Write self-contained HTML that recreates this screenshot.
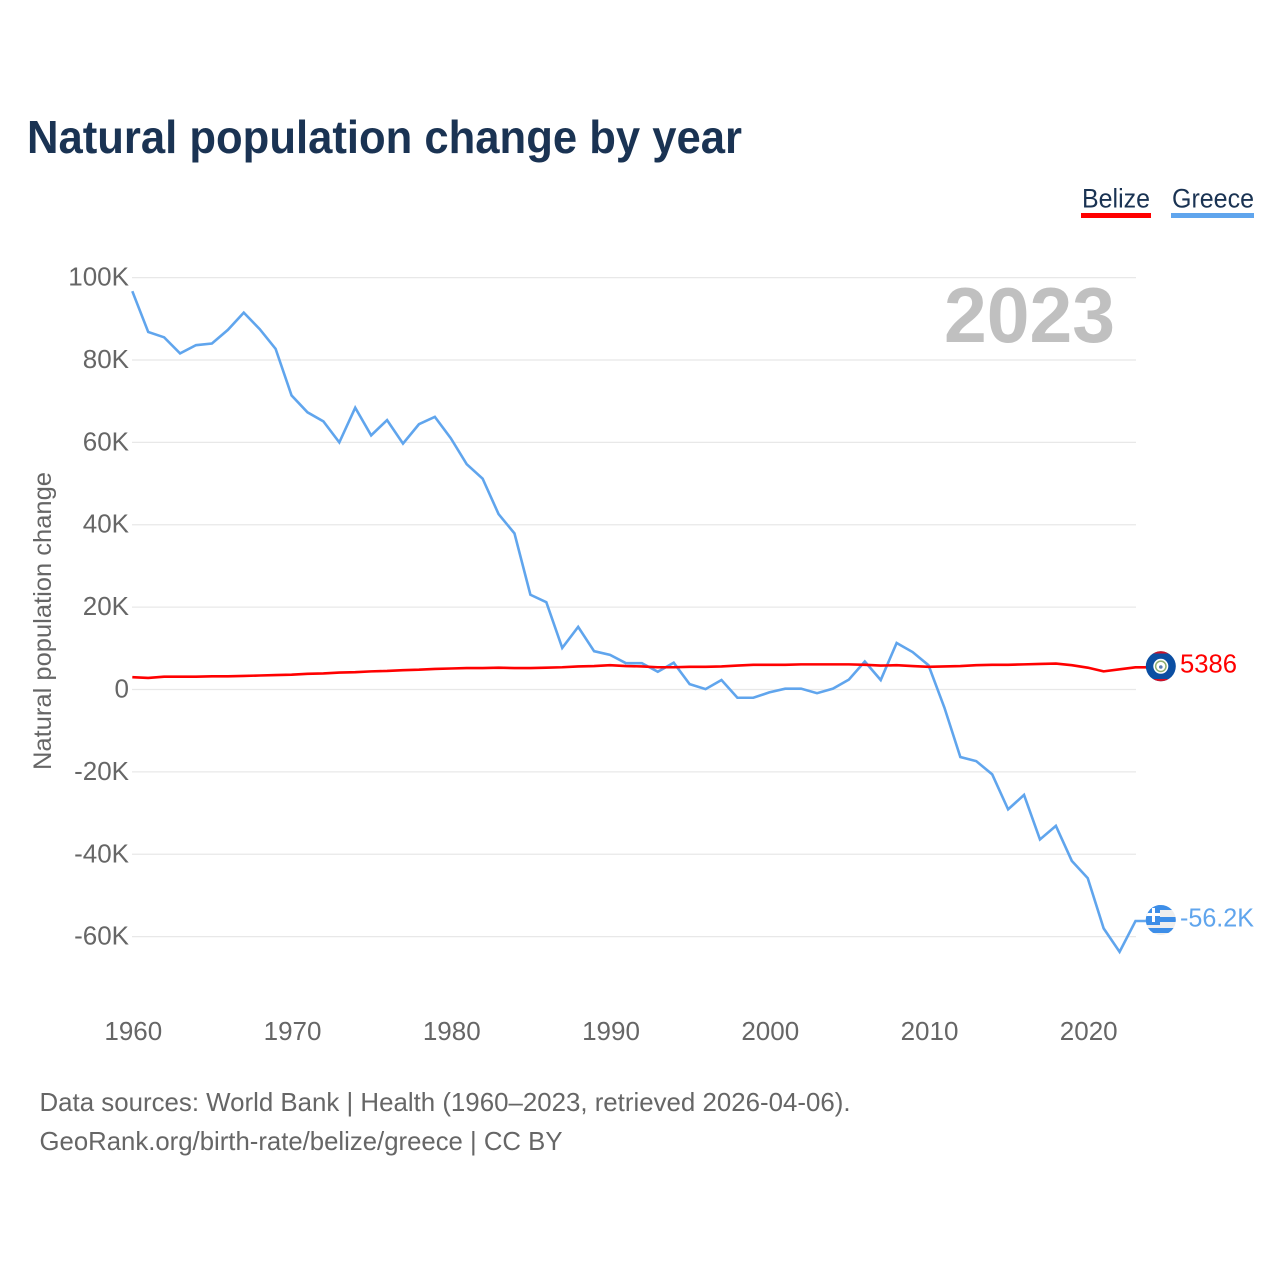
<!DOCTYPE html>
<html lang="en">
<head>
<meta charset="utf-8">
<title>Natural population change by year</title>
<style>
html,body{margin:0;padding:0;background:#fff;}
svg{display:block;}
text{font-family:"Liberation Sans",sans-serif;}
</style>
</head>
<body>
<svg id="chart" xmlns="http://www.w3.org/2000/svg" width="1280" height="1280" viewBox="0 0 1280 1280">
  <defs>
    <clipPath id="belize-clip"><circle cx="1160.8" cy="666.3" r="15"/></clipPath>
    <clipPath id="greece-clip"><circle cx="1160.8" cy="920" r="15"/></clipPath>
  </defs>
  <rect x="0" y="0" width="1280" height="1280" fill="#ffffff"/>
  <text x="27" y="153" font-size="46" font-weight="700" fill="#1a3353" textLength="715" lengthAdjust="spacingAndGlyphs">Natural population change by year</text>

  <g>
    <g>
      <text x="1082" y="207.5" font-size="27" fill="#1a3353" textLength="68" lengthAdjust="spacingAndGlyphs">Belize</text>
      <rect x="1081" y="213" width="70" height="5" fill="#ff0000"/>
    </g>
    <g>
      <text x="1172" y="207.5" font-size="27" fill="#1a3353" textLength="82" lengthAdjust="spacingAndGlyphs">Greece</text>
      <rect x="1171" y="213" width="83" height="5" fill="#60a5ed"/>
    </g>
  </g>

  <g id="grid"></g>
  <g id="y-axis"></g>
  <g id="x-axis"></g>

  <text transform="translate(51 770) rotate(-90)" font-size="25" fill="#666666" textLength="298" lengthAdjust="spacingAndGlyphs">Natural population change</text>
  <text x="944" y="342" font-size="78" font-weight="700" fill="#c0c0c0" textLength="171" lengthAdjust="spacingAndGlyphs">2023</text>

  <g id="series"></g>

  <g clip-path="url(#belize-clip)">
    <rect x="1145" y="651" width="32" height="31" fill="#0b4ea2"/>
    <rect x="1145" y="651" width="32" height="2.5" fill="#ce1126"/>
    <rect x="1145" y="679" width="32" height="3" fill="#ce1126"/>
    <circle cx="1160.8" cy="666.3" r="7.5" fill="#ffffff"/>
    <circle cx="1160.8" cy="666.3" r="5.2" fill="none" stroke="#8fae70" stroke-width="1.5"/>
    <circle cx="1160.8" cy="667" r="1.8" fill="#5b7fb5"/>
  </g>
  <g clip-path="url(#greece-clip)">
    <rect x="1145" y="905" width="32" height="30" fill="#eeeeee"/>
    <rect x="1145" y="905" width="32" height="5" fill="#3d8ee8"/>
    <rect x="1145" y="917" width="32" height="5" fill="#3d8ee8"/>
    <rect x="1145" y="928" width="32" height="5" fill="#3d8ee8"/>
    <rect x="1145" y="905" width="15" height="20" fill="#3d8ee8"/>
    <rect x="1152" y="908" width="3" height="14" fill="#ffffff"/>
    <rect x="1146" y="913" width="14" height="3" fill="#ffffff"/>
  </g>

  <text id="label-belize" x="1180" y="672.5" font-size="26" fill="#ff0000" textLength="57" lengthAdjust="spacingAndGlyphs">5386</text>
  <text id="label-greece" x="1180" y="926.5" font-size="26" fill="#60a5ed" textLength="74" lengthAdjust="spacingAndGlyphs">-56.2K</text>

  <text x="39.5" y="1111" font-size="26" fill="#666666" textLength="811" lengthAdjust="spacingAndGlyphs">Data sources: World Bank | Health (1960–2023, retrieved 2026-04-06).</text>
  <text x="39.5" y="1150" font-size="26" fill="#666666" textLength="523" lengthAdjust="spacingAndGlyphs">GeoRank.org/birth-rate/belize/greece | CC BY</text>
</svg>
<script>
const startYear = 1960;
const endYear = 2023;
const xTickYears = [1960, 1970, 1980, 1990, 2000, 2010, 2020];
const yTickValues = [100, 80, 60, 40, 20, 0, -20, -40, -60];
const yTickLabels = ['100K', '80K', '60K', '40K', '20K', '0', '-20K', '-40K', '-60K'];
const belizeValues = [3.0, 2.8, 3.1, 3.1, 3.1, 3.2, 3.2, 3.3, 3.4, 3.5,
  3.6, 3.8, 3.9, 4.1, 4.2, 4.4, 4.5, 4.7, 4.8, 5.0,
  5.1, 5.2, 5.2, 5.3, 5.2, 5.2, 5.3, 5.4, 5.6, 5.7,
  5.9, 5.7, 5.6, 5.4, 5.4, 5.5, 5.5, 5.6, 5.8, 6.0,
  6.0, 6.0, 6.1, 6.1, 6.1, 6.1, 6.0, 5.8, 5.9, 5.7,
  5.5, 5.6, 5.7, 5.9, 6.0, 6.0, 6.1, 6.2, 6.3, 5.9,
  5.3, 4.4, 4.9, 5.386];
const greeceValues = [96.7, 86.8, 85.5, 81.6, 83.6, 84.0, 87.3, 91.5, 87.5, 82.7,
  71.4, 67.3, 65.1, 60.0, 68.4, 61.7, 65.4, 59.7, 64.4, 66.2,
  61.0, 54.7, 51.2, 42.6, 37.9, 23.0, 21.2, 10.1, 15.2, 9.3,
  8.4, 6.4, 6.4, 4.3, 6.5, 1.3, 0.1, 2.3, -2.0, -2.0,
  -0.7, 0.2, 0.2, -0.9, 0.2, 2.4, 6.8, 2.3, 11.3, 9.1,
  5.9, -4.4, -16.4, -17.4, -20.6, -29.1, -25.6, -36.4, -33.1, -41.6,
  -45.8, -58.0, -63.7, -56.2];

const SVG_NS = 'http://www.w3.org/2000/svg';
function xScale(year) { return 132.3 + (year - startYear) * (1135.5 - 132.3) / (endYear - startYear); }
function yScale(value) { return 689.5 - value * 4.119; }

const grid = document.getElementById('grid');
const yAxis = document.getElementById('y-axis');
const xAxis = document.getElementById('x-axis');
const seriesGroup = document.getElementById('series');

yTickValues.forEach(function (value, i) {
  const line = document.createElementNS(SVG_NS, 'line');
  
  
  line.setAttribute('x1', 132);
  line.setAttribute('x2', 1136);
  line.setAttribute('y1', yScale(value));
  line.setAttribute('y2', yScale(value));
  line.setAttribute('stroke', '#e8e8e8');
  line.setAttribute('stroke-width', '1.3');
  grid.appendChild(line);

  const label = document.createElementNS(SVG_NS, 'text');
  
  
  label.setAttribute('x', 129);
  label.setAttribute('y', yScale(value) + 8);
  label.setAttribute('text-anchor', 'end');
  label.setAttribute('font-size', '26');
  label.setAttribute('fill', '#666666');
  label.textContent = yTickLabels[i];
  yAxis.appendChild(label);
});

xTickYears.forEach(function (year) {
  const label = document.createElementNS(SVG_NS, 'text');
  
  
  label.setAttribute('x', xScale(year) + 1);
  label.setAttribute('y', 1040);
  label.setAttribute('text-anchor', 'middle');
  label.setAttribute('font-size', '26');
  label.setAttribute('fill', '#666666');
  label.textContent = String(year);
  xAxis.appendChild(label);
});

function buildPoints(values) {
  const pts = values.map(function (v, i) {
    return xScale(startYear + i).toFixed(2) + ',' + yScale(v).toFixed(2);
  });
  pts.push('1147,' + yScale(values[values.length - 1]).toFixed(2));
  return pts.join(' ');
}

const greeceLine = document.createElementNS(SVG_NS, 'polyline');


greeceLine.setAttribute('points', buildPoints(greeceValues));
greeceLine.setAttribute('fill', 'none');
greeceLine.setAttribute('stroke', '#60a5ed');
greeceLine.setAttribute('stroke-width', '2.6');
greeceLine.setAttribute('stroke-linejoin', 'miter');
seriesGroup.appendChild(greeceLine);

const belizeLine = document.createElementNS(SVG_NS, 'polyline');


belizeLine.setAttribute('points', buildPoints(belizeValues));
belizeLine.setAttribute('fill', 'none');
belizeLine.setAttribute('stroke', '#ff0000');
belizeLine.setAttribute('stroke-width', '2.6');
belizeLine.setAttribute('stroke-linejoin', 'round');
seriesGroup.appendChild(belizeLine);
</script>
</body>
</html>
